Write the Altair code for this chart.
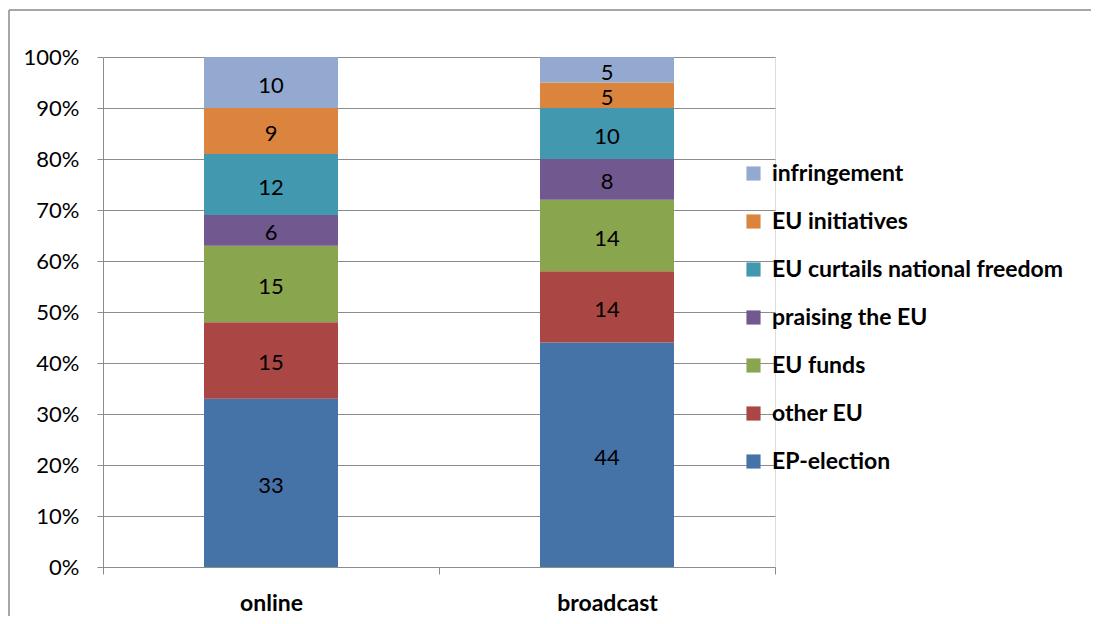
import altair as alt
import pandas as pd

media = ["online", "broadcast"]
topics = ["EP-election", "other EU", "EU funds", "praising the EU",
          "EU curtails national freedom", "EU initiatives", "infringement"]
online_vals = [33, 15, 15, 6, 12, 9, 10]
broadcast_vals = [44, 14, 14, 8, 10, 5, 5]
colors = ["#4572A7", "#AA4643", "#89A54E", "#71588F", "#4198AF", "#DB843D", "#93A9CF"]
y_ticks = [0, 10, 20, 30, 40, 50, 60, 70, 80, 90, 100]

rows = []
for m, vals in zip(media, [online_vals, broadcast_vals]):
    for i, (t, v) in enumerate(zip(topics, vals)):
        rows.append({"medium": m, "topic": t, "value": v, "order": i})
df = pd.DataFrame(rows)

FONT = "Lato"
GRID = "#8c8c8c"

legend_domain = topics[::-1]
legend_range = colors[::-1]

base = alt.Chart(df).transform_stack(
    stack="value", groupby=["medium"], as_=["y0", "y1"],
    sort=[alt.SortField("order", order="ascending")]
).transform_calculate(mid="(datum.y0 + datum.y1) / 2")

x_enc = alt.X("medium:N", sort=media, title=None,
              scale=alt.Scale(paddingInner=0, paddingOuter=0),
              axis=alt.Axis(tickBand="extent", labelAngle=0, labelFont=FONT,
                            labelFontSize=23, labelFontWeight="bold",
                            labelColor="#000000", labelPadding=18,
                            domainColor=GRID, tickColor=GRID, tickSize=7,
                            grid=False))

bars = base.mark_bar(size=134).encode(
    x=x_enc,
    y=alt.Y("y0:Q", title=None,
            scale=alt.Scale(domain=[0, 100], nice=False),
            axis=alt.Axis(values=y_ticks, labelExpr="datum.value + '%'",
                          labelFont=FONT, labelFontSize=22, labelColor="#000000",
                          labelPadding=18, tickSize=6, tickColor=GRID,
                          domainColor=GRID, gridColor=GRID, gridWidth=1)),
    y2="y1:Q",
    color=alt.Color("topic:N", title=None,
                    scale=alt.Scale(domain=legend_domain, range=legend_range),
                    legend=alt.Legend(orient="none", legendX=639, legendY=105,
                                      symbolType="square", symbolSize=200,
                                      symbolStrokeWidth=0, labelFont=FONT,
                                      labelFontSize=23, labelFontWeight="bold",
                                      labelColor="#000000", labelOffset=7,
                                      rowPadding=24, padding=0,
                                      labelLimit=400)),
)

labels = base.mark_text(font=FONT, fontSize=22, color="#000000",
                        baseline="middle", dy=3).encode(
    x=alt.X("medium:N", sort=media),
    y=alt.Y("mid:Q"),
    text=alt.Text("value:Q"),
)

frame_df = pd.DataFrame({"f": [0]})
frame_top = alt.Chart(frame_df).mark_rule(color="#8a8a8a", strokeWidth=1.5).encode(
    x=alt.value(-94), x2=alt.value(1000), y=alt.value(-47))
frame_left = alt.Chart(frame_df).mark_rule(color="#8a8a8a", strokeWidth=1.5).encode(
    x=alt.value(-94), y=alt.value(-47), y2=alt.value(600))

chart = alt.layer(bars, labels, frame_top, frame_left).properties(
    width=672, height=510,
    autosize=alt.AutoSizeParams(type="none"),
    padding={"left": 95, "top": 49, "right": 316, "bottom": 49},
).configure_view(stroke=None).configure(background="#ffffff")

chart.save("out.html", embed_options={"renderer": "svg", "actions": False})
